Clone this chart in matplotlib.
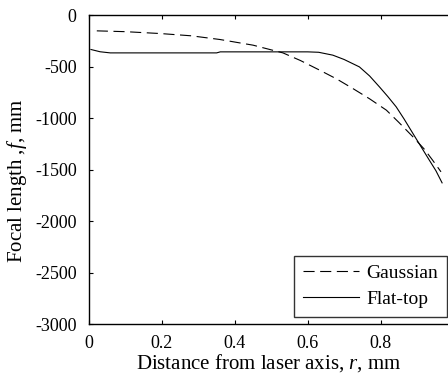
import matplotlib
matplotlib.use("Agg")
import matplotlib.pyplot as plt

r_gauss = [0.021, 0.10, 0.195, 0.28, 0.359, 0.45, 0.532, 0.58, 0.633, 0.68, 0.724,
           0.77, 0.816, 0.85, 0.889, 0.92, 0.943, 0.966]
f_gauss = [-152, -160, -178, -200, -236, -291, -366, -440, -534, -620, -712,
           -812, -922, -1040, -1181, -1300, -1408, -1521]

r_flat = [0.005, 0.03, 0.058, 0.20, 0.35, 0.36, 0.50, 0.60, 0.63, 0.669, 0.70,
          0.742, 0.77, 0.797, 0.82, 0.843, 0.865, 0.889, 0.91, 0.934, 0.952, 0.969]
f_flat = [-333, -355, -366, -366, -366, -356, -356, -356, -360, -388, -430,
          -502, -590, -696, -790, -890, -1010, -1149, -1270, -1408, -1510, -1628]

x_ticks = [0, 0.2, 0.4, 0.6, 0.8]
x_ticklabels = ["0", "0.2", "0.4", "0.6", "0.8"]
y_ticks = [0, -500, -1000, -1500, -2000, -2500, -3000]

plt.rcParams["font.family"] = "Liberation Serif"
plt.rcParams["axes.unicode_minus"] = False
plt.rcParams["mathtext.fontset"] = "custom"
plt.rcParams["mathtext.it"] = "Liberation Serif:italic"
plt.rcParams["mathtext.rm"] = "Liberation Serif"

fig = plt.figure(figsize=(4.48, 3.8), dpi=100)
ax = fig.add_axes([0.199, 0.147, 0.80, 0.813])

ax.plot(r_gauss, f_gauss, color="black", lw=0.8, ls=(0, (10, 5)), label="Gaussian")
ax.plot(r_flat, f_flat, color="black", lw=0.8, label="Flat-top")

ax.set_xlim(0, 0.984)
ax.set_ylim(-3000, 0)
ax.set_xticks(x_ticks)
ax.set_xticklabels(x_ticklabels)
ax.set_yticks(y_ticks)
ax.tick_params(direction="in", length=3, width=0.8, labelsize=13, top=True)
ax.tick_params(axis="x", pad=8)
ax.tick_params(axis="y", pad=9)
ax.spines["right"].set_visible(False)
for sp in ("left", "bottom", "top"):
    ax.spines[sp].set_linewidth(1.0)

ax.set_xlabel("Distance from laser axis, $r$, mm", fontsize=15, labelpad=0)
ax.set_ylabel("Focal length ,$f$, mm", fontsize=15)
ax.yaxis.set_label_coords(-0.168, 0.465)

leg = ax.legend(loc="lower right", fontsize=14, frameon=True, fancybox=False,
                edgecolor="black", handlelength=2.9, handletextpad=0.4,
                borderpad=0.45, labelspacing=0.45, borderaxespad=0,
                bbox_to_anchor=(0.999, 0.023))
leg.get_frame().set_linewidth(1.0)

fig.savefig("out.png", dpi=100)
